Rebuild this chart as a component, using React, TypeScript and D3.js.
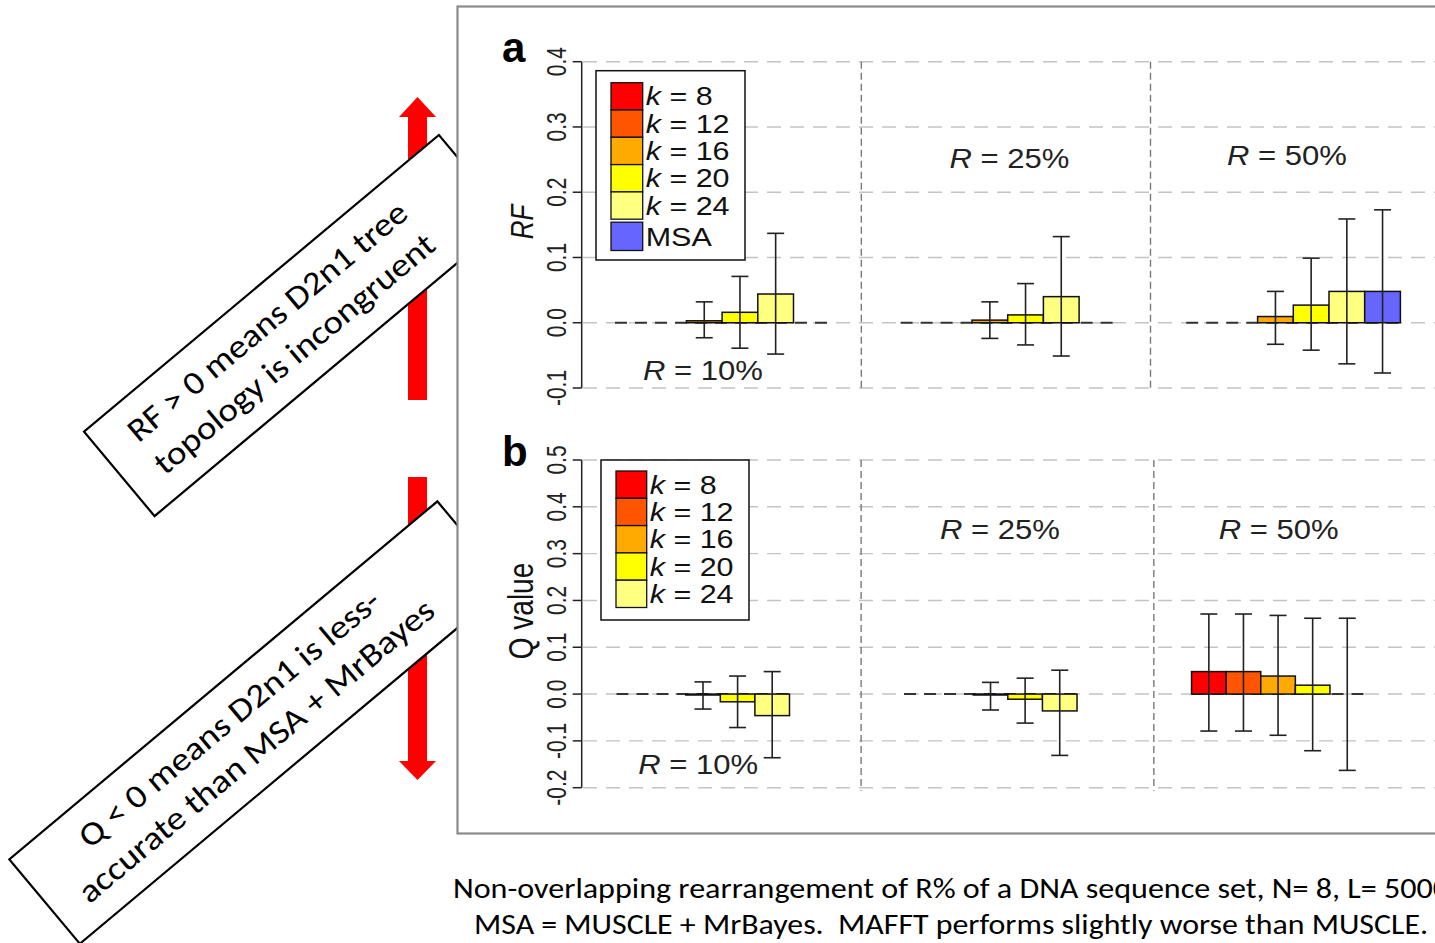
import React from "react";
import * as d3 from "d3";

// ---------- data ----------
const rLabels = ["10%", "25%", "50%"];
const kValues = [8, 12, 16, 20, 24];
const seriesColors = ["#FF0000", "#FF5500", "#FFAA00", "#FFFF00", "#FFFF80", "#6666FF"];

// Panel a: RF (series k=8,12,16,20,24,MSA) per R group
const rfMean = [
  [0, 0, 0.003, 0.016, 0.044, 0],
  [0, 0, 0.004, 0.012, 0.04, 0],
  [0, 0, 0.0095, 0.027, 0.048, 0.048],
];
const rfLow = [
  [null, null, -0.023, -0.039, -0.048, null],
  [null, null, -0.024, -0.034, -0.051, null],
  [null, null, -0.033, -0.042, -0.063, -0.077],
];
const rfHigh = [
  [null, null, 0.032, 0.071, 0.137, null],
  [null, null, 0.032, 0.06, 0.132, null],
  [null, null, 0.048, 0.099, 0.159, 0.173],
];

// Panel b: Q value (series k=8..24) per R group
const qMean = [
  [0, 0, -0.002, -0.0165, -0.046],
  [0, 0, -0.002, -0.011, -0.036],
  [0.048, 0.048, 0.0385, 0.019, 0],
];
const qLow = [
  [null, null, -0.032, -0.0715, -0.136],
  [null, null, -0.034, -0.062, -0.131],
  [-0.079, -0.079, -0.088, -0.121, -0.163],
];
const qHigh = [
  [null, null, 0.026, 0.0385, 0.048],
  [null, null, 0.025, 0.034, 0.051],
  [0.171, 0.171, 0.168, 0.162, 0.162],
];

const rfTicks = [-0.1, 0, 0.1, 0.2, 0.3, 0.4];
const qTicks = [-0.2, -0.1, 0, 0.1, 0.2, 0.3, 0.4, 0.5];

const captionLines = [
  "Non-overlapping rearrangement of R% of a DNA sequence set, N= 8, L= 5000",
  "MSA = MUSCLE + MrBayes.  MAFFT performs slightly worse than MUSCLE.",
];
const noteUp = ["RF > 0 means D2n1 tree", "topology is incongruent"];
const noteDown = ["Q < 0 means D2n1 is less-", "accurate than MSA + MrBayes"];

// ---------- styling / layout ----------
const ARIAL = "'Liberation Sans', Arial, sans-serif";
const CALIBRI = "Carlito, Calibri, 'Open Sans', sans-serif";
const SX = 1.15; // horizontal stretch of the R graphic
const SXR = 1.33; // stretch of rotated labels

type PanelCfg = {
  letter: string;
  letterY: number;
  y: d3.ScaleLinear<number, number>;
  x: d3.ScaleLinear<number, number>;
  stride: number;
  nSeries: number;
  mean: number[][];
  low: (number | null)[][];
  high: (number | null)[][];
  ticks: number[];
  dividers: number[];
  labelPos: [number, number][];
  title: string;
  titleItalic: boolean;
  titleSize: number;
  legend: { x0: number; y0: number; x1: number; y1: number; sx0: number; sx1: number; row0: number; withMSA: boolean };
};

const panels: PanelCfg[] = [
  {
    letter: "a",
    letterY: 62,
    y: d3.scaleLinear().domain([-0.1, 0.4]).range([388, 61.7]),
    x: d3.scaleLinear().domain([0, 1]).range([615, 650.7]),
    stride: 8,
    nSeries: 6,
    mean: rfMean,
    low: rfLow,
    high: rfHigh,
    ticks: rfTicks,
    dividers: [6.9, 15.0],
    labelPos: [
      [2.46, -0.088],
      [11.05, 0.2376],
      [18.82, 0.2417],
    ],
    title: "RF",
    titleItalic: true,
    titleSize: 26,
    legend: { x0: 596, y0: 70.7, x1: 745, y1: 260, sx0: 611, sx1: 642.7, row0: 82.7, withMSA: true },
  },
  {
    letter: "b",
    letterY: 466,
    y: d3.scaleLinear().domain([-0.2, 0.5]).range([787.7, 460]),
    x: d3.scaleLinear().domain([0, 1]).range([616.5, 651.1]),
    stride: 8.31,
    nSeries: 5,
    mean: qMean,
    low: qLow,
    high: qHigh,
    ticks: qTicks,
    dividers: [7.07, 15.53],
    labelPos: [
      [2.36, -0.171],
      [11.08, 0.331],
      [19.14, 0.331],
    ],
    title: "Q value",
    titleItalic: false,
    titleSize: 28,
    legend: { x0: 601, y0: 460, x1: 749, y1: 620, sx0: 616, sx1: 646.7, row0: 471, withMSA: false },
  },
];

const ROW = 27.3;

function Panel({ p }: { p: PanelCfg }) {
  const { x, y } = p;
  const axisX = 581.7;
  const yTop = y(p.ticks[p.ticks.length - 1]);
  const yBot = y(p.ticks[0]);
  const els: React.ReactNode[] = [];

  // gridlines
  p.ticks.forEach((t, i) => {
    els.push(
      <line key={"g" + i} x1={583} x2={1440} y1={y(t)} y2={y(t)} stroke="#c4c4c4" strokeWidth={1.4} strokeDasharray="14 9" />
    );
  });
  // dividers
  p.dividers.forEach((d, i) => {
    els.push(
      <line key={"d" + i} x1={x(d)} x2={x(d)} y1={yTop} y2={yBot + 3} stroke="#7a7a7a" strokeWidth={1.4} strokeDasharray="7 4" />
    );
  });
  // axis
  els.push(<line key="ax" x1={axisX} x2={axisX} y1={yTop} y2={yBot} stroke="#222" strokeWidth={1.5} />);
  p.ticks.forEach((t, i) => {
    els.push(<line key={"t" + i} x1={axisX - 9} x2={axisX} y1={y(t)} y2={y(t)} stroke="#222" strokeWidth={1.5} />);
    els.push(
      <text
        key={"tl" + i}
        transform={`translate(566,${y(t)}) scale(${SXR},1) rotate(-90)`}
        textAnchor="middle"
        fontFamily={ARIAL}
        fontSize={21}
        fill="#222"
      >
        {t.toFixed(1)}
      </text>
    );
  });
  // axis title
  els.push(
    <text
      key="title"
      transform={`translate(533,${p.letter === "a" ? 222 : 611}) scale(1.22,1) rotate(-90)`}
      textAnchor="middle"
      fontFamily={ARIAL}
      fontSize={p.titleSize}
      fontStyle={p.titleItalic ? "italic" : "normal"}
      fill="#111"
    >
      {p.title}
    </text>
  );
  // panel letter
  els.push(
    <text key="letter" x={502} y={p.letterY} fontFamily={ARIAL} fontWeight="bold" fontSize={42} fill="#000">
      {p.letter}
    </text>
  );

  // groups
  p.mean.forEach((grp, g) => {
    const g0 = g * p.stride;
    els.push(
      <line
        key={"z" + g}
        x1={x(g0)}
        x2={x(g0 + p.nSeries)}
        y1={y(0)}
        y2={y(0)}
        stroke="#333"
        strokeWidth={2}
        strokeDasharray="12 8"
      />
    );
    grp.forEach((v, s) => {
      if (Math.abs(v) < 1e-9) return;
      const xa = x(g0 + s);
      const xb = x(g0 + s + 1);
      els.push(
        <rect
          key={`b${g}-${s}`}
          x={xa}
          width={xb - xa}
          y={Math.min(y(v), y(0))}
          height={Math.abs(y(v) - y(0))}
          fill={seriesColors[s]}
          stroke="#111"
          strokeWidth={1.5}
        />
      );
    });
    grp.forEach((v, s) => {
      const lo = p.low[g][s];
      const hi = p.high[g][s];
      if (lo == null || hi == null) return;
      const cx = x(g0 + s + 0.5);
      els.push(
        <g key={`e${g}-${s}`} stroke="#222" strokeWidth={1.6}>
          <line x1={cx} x2={cx} y1={y(hi)} y2={y(lo)} />
          <line x1={cx - 8.5} x2={cx + 8.5} y1={y(hi)} y2={y(hi)} />
          <line x1={cx - 8.5} x2={cx + 8.5} y1={y(lo)} y2={y(lo)} />
        </g>
      );
    });
    const [lu, lv] = p.labelPos[g];
    els.push(
      <text
        key={"rl" + g}
        transform={`translate(${x(lu)},${y(lv)}) scale(${SX},1)`}
        textAnchor="middle"
        fontFamily={ARIAL}
        fontSize={27}
        fill="#222"
      >
        <tspan fontStyle="italic">R</tspan>
        {" = " + rLabels[g]}
      </text>
    );
  });

  // legend
  const L = p.legend;
  els.push(
    <rect key="lbox" x={L.x0} y={L.y0} width={L.x1 - L.x0} height={L.y1 - L.y0} fill="#fff" stroke="#111" strokeWidth={1.5} />
  );
  kValues.forEach((k, i) => {
    const ry = L.row0 + i * ROW;
    els.push(
      <rect key={"ls" + i} x={L.sx0} y={ry} width={L.sx1 - L.sx0} height={ROW} fill={seriesColors[i]} stroke="#111" strokeWidth={1.3} />
    );
    els.push(
      <text
        key={"lt" + i}
        transform={`translate(${L.sx1 + 3},${ry + ROW / 2 + 9}) scale(${SX},1)`}
        fontFamily={ARIAL}
        fontSize={26.5}
        fill="#111"
      >
        <tspan fontStyle="italic">k</tspan>
        {" = " + k}
      </text>
    );
  });
  if (L.withMSA) {
    const ry = L.row0 + kValues.length * ROW + 3;
    els.push(
      <rect key="lsm" x={L.sx0} y={ry} width={L.sx1 - L.sx0} height={ROW + 1} fill={seriesColors[5]} stroke="#111" strokeWidth={1.3} />
    );
    els.push(
      <text
        key="ltm"
        transform={`translate(${L.sx1 + 3},${ry + ROW / 2 + 10}) scale(${SX},1)`}
        fontFamily={ARIAL}
        fontSize={26.5}
        fill="#111"
      >
        MSA
      </text>
    );
  }
  return <g>{els}</g>;
}

function NoteBox({ ox, oy, len, lines, lengths }: { ox: number; oy: number; len: number; lines: string[]; lengths: number[] }) {
  return (
    <g transform={`translate(${ox},${oy}) rotate(-39.9)`}>
      <rect x={0} y={0} width={len + 40} height={110} fill="#fff" stroke="#000" strokeWidth={2.2} />
      {lines.map((t, i) => (
        <text
          key={i}
          x={len / 2}
          y={44 + i * 42}
          textAnchor="middle"
          fontFamily={CALIBRI}
          fontSize={33}
          textLength={lengths[i]}
          lengthAdjust="spacingAndGlyphs"
          fill="#000"
        >
          {t}
        </text>
      ))}
    </g>
  );
}

export default function App() {
  return (
    <svg
      width={1435}
      height={943}
      viewBox="0 0 1435 943"
      style={{ position: "absolute", left: 0, top: 0, background: "#fff" }}
    >
      <rect x={0} y={0} width={1435} height={943} fill="#fff" />
      {/* red arrows */}
      <g fill="#FF0000">
        <rect x={408} y={114} width={19} height={286} />
        <polygon points="399,117 436,117 417.5,97" />
        <rect x={408} y={477} width={19} height={286} />
        <polygon points="399,761 436,761 417.5,780" />
      </g>
      <NoteBox ox={84} oy={431.7} len={422.6} lines={noteUp} lengths={[354, 355]} />
      <NoteBox ox={9.3} oy={859.3} len={518} lines={noteDown} lengths={[382, 453]} />
      {/* chart frame */}
      <rect x={457.5} y={6.5} width={1010} height={827} fill="#fff" stroke="#8a8a8a" strokeWidth={2.2} />
      {panels.map((p, i) => (
        <Panel key={i} p={p} />
      ))}
      {/* caption */}
      {captionLines.map((t, i) => (
        <text
          key={i}
          x={951}
          y={898 + i * 36}
          textAnchor="middle"
          fontFamily={CALIBRI}
          fontSize={29}
          textLength={i === 0 ? 996 : 954}
          lengthAdjust="spacingAndGlyphs"
          fill="#000"
          style={{ whiteSpace: "pre" }}
        >
          {t}
        </text>
      ))}
    </svg>
  );
}
